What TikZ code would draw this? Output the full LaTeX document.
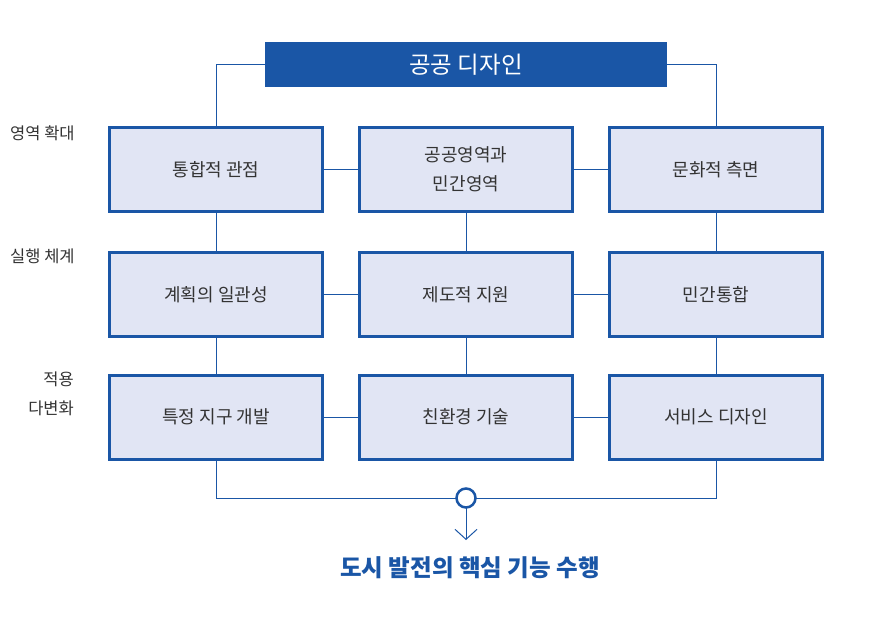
\documentclass[tikz,border=0pt]{standalone}
\usepackage{fontspec}
\setmainfont{Noto Sans CJK KR}
\usetikzlibrary{arrows.meta}
\definecolor{dblue}{HTML}{1A56A6}
\definecolor{boxfill}{HTML}{E1E5F4}
\definecolor{txt}{HTML}{333333}
\tikzset{
  cbox/.style={draw=dblue,line width=3pt,fill=boxfill,minimum width=213pt,minimum height=84pt,inner sep=0pt,outer sep=0pt,text=txt,font=\fontsize{18pt}{29pt}\selectfont,align=center},
  conn/.style={draw=dblue,line width=1pt},
  side/.style={text=txt,font=\fontsize{16.5pt}{18pt}\selectfont,inner sep=0pt}
}
\begin{document}
\begin{tikzpicture}[x=1pt,y=-1pt]
\useasboundingbox (0,0) rectangle (874,627);
\node[fill=dblue,minimum width=402pt,minimum height=45pt,inner sep=0pt,outer sep=0pt,text=white,font=\fontsize{23.5pt}{24pt}\selectfont] (title) at (466,64.5) {공공 디자인};
% row 1
\node[cbox] (b11) at (216,169.5) {통합적 관점};
\node[cbox] (b12) at (466,169.5) {공공영역과\\민간영역};
\node[cbox] (b13) at (716,169.5) {문화적 측면};
% row 2
\node[cbox] (b21) at (216,294.5) {계획의 일관성};
\node[cbox] (b22) at (466,294.5) {제도적 지원};
\node[cbox] (b23) at (716,294.5) {민간통합};
% row 3
\node[cbox] (b31) at (216,417) {특정 지구 개발};
\node[cbox] (b32) at (466,417) {친환경 기술};
\node[cbox] (b33) at (716,417) {서비스 디자인};
% circle
\node[circle,draw=dblue,line width=2.5pt,fill=white,minimum size=19pt,inner sep=0pt,outer sep=0pt] (circ) at (466,498) {};
\coordinate (tip) at (466,540);
% connectors
\draw[conn] (title.west) -| (b11.north);
\draw[conn] (title.east) -| (b13.north);
\foreach \r in {1,2,3}{
  \draw[conn] (b\r1.east) -- (b\r2.west);
  \draw[conn] (b\r2.east) -- (b\r3.west);
}
\foreach \c in {1,2,3}{
  \draw[conn] (b1\c.south) -- (b2\c.north);
  \draw[conn] (b2\c.south) -- (b3\c.north);
}
\draw[conn] (b31.south) |- (circ.west);
\draw[conn] (b33.south) |- (circ.east);
\draw[conn,-{Straight Barb[length=10pt,width=22pt,line width=1pt]}] (circ.south) -- (tip);
\node[text=dblue,font=\bfseries\fontsize{23.5pt}{24pt}\selectfont] (result) at (470,568) {도시 발전의 핵심 기능 수행};
% side labels
\node[side,anchor=west] (l1) at (10,133) {영역 확대};
\node[side,anchor=west] (l2) at (10,256) {실행 체계};
\node[side,anchor=east] (l3a) at (74,379) {적용};
\node[side,anchor=east] (l3b) at (74,408) {다변화};
\end{tikzpicture}
\end{document}
